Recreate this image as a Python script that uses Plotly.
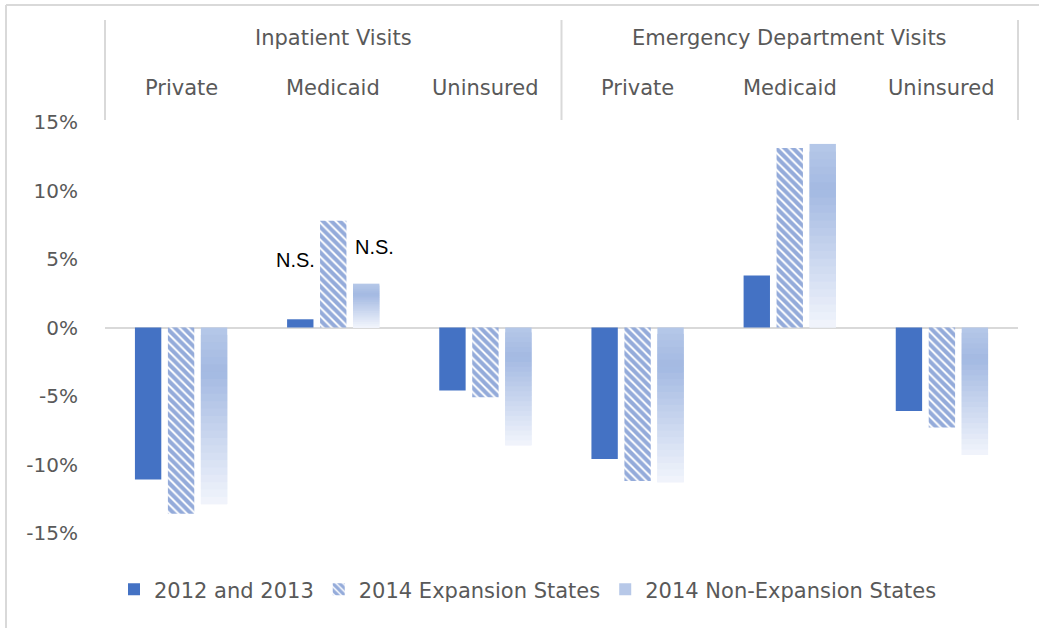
import plotly.graph_objects as go

# ---- data ----
outer_labels = ["Inpatient Visits"] * 3 + ["Emergency Department Visits"] * 3
inner_labels = ["Private", "Medicaid", "Uninsured"] * 2
series_names = ["2012 and 2013", "2014 Expansion States", "2014 Non-Expansion States"]
vals_2012_2013 = [-11.1, 0.6, -4.6, -9.6, 3.8, -6.1]
vals_2014_exp = [-13.6, 7.8, -5.1, -11.2, 13.1, -7.3]
vals_2014_nonexp = [-12.9, 3.2, -8.6, -11.3, 13.4, -9.3]
y_ticks = [-15, -10, -5, 0, 5, 10, 15]
y_tick_text = ["-15%", "-10%", "-5%", "0%", "5%", "10%", "15%"]
ns_notes = ["N.S.", "N.S."]

# ---- layout constants (body margin removed via post_script) ----
W, H = 1039, 628
ML, MR, MT, MB = 105, 21, 122, 95
PW, PH = W - ML - MR, H - MT - MB
TXT = "#595959"
GRID = "#D9D9D9"
BLUE = "#4472C4"
FONT = "DejaVu Sans"

def px_x(px):  # page pixel -> paper
    return (px - ML) / PW

def px_y(py):
    return (H - MB - py) / PH

x = [outer_labels, inner_labels]
fig = go.Figure()

fig.add_trace(go.Bar(
    x=x, y=vals_2012_2013, name=series_names[0], offsetgroup="a",
    marker=dict(color=BLUE, line=dict(width=0)), legendrank=1,
))
fig.add_trace(go.Bar(
    x=x, y=vals_2014_exp, name=series_names[1], offsetgroup="b",
    marker=dict(color="white", line=dict(width=0),
                pattern=dict(shape="\\", fgcolor="#2A58B5", bgcolor="white",
                             size=6, solidity=0.68)),
    legendrank=2,
))

# gradient bars (screen top -> bottom), drawn as overlapping slices of each value
stops = [(0.0, (182, 200, 232)), (0.25, (163, 185, 226)), (1.0, (242, 245, 252))]

def grad_color(t):
    for (t0, c0), (t1, c1) in zip(stops[:-1], stops[1:]):
        if t <= t1:
            f = (t - t0) / (t1 - t0) if t1 > t0 else 0
            return "rgb(%d,%d,%d)" % tuple(round(a + (b - a) * f) for a, b in zip(c0, c1))
    return "rgb(%d,%d,%d)" % stops[-1][1]

N = 24
for k in range(N):
    bases, heights = [], []
    for v in vals_2014_nonexp:
        hi, lo = max(v, 0), min(v, 0)
        step = (hi - lo) / N
        top = hi - k * step
        b = max(top - 2 * step, lo)
        bases.append(b)
        heights.append(top - b)
    fig.add_trace(go.Bar(
        x=x, y=heights, base=bases, offsetgroup="c",
        marker=dict(color=grad_color((k + 0.5) / N), line=dict(width=0)),
        name=series_names[2], legendgroup="nonexp",
        showlegend=(k == 10), legendrank=3, hoverinfo="skip",
    ))

# two-level category header above the plot
n_cat = len(inner_labels)
for i, lab in enumerate(inner_labels):
    fig.add_annotation(x=(i + 0.5) / n_cat, y=px_y(88), xref="paper", yref="paper",
                       text=lab, showarrow=False, xanchor="center", yanchor="middle",
                       font=dict(family=FONT, size=21, color=TXT))
groups = []
for i, lab in enumerate(outer_labels):
    if not groups or groups[-1][0] != lab:
        groups.append([lab, i, i])
    else:
        groups[-1][2] = i
for lab, i0, i1 in groups:
    fig.add_annotation(x=(i0 + i1 + 1) / 2 / n_cat, y=px_y(38), xref="paper", yref="paper",
                       text=lab, showarrow=False, xanchor="center", yanchor="middle",
                       font=dict(family=FONT, size=21, color=TXT))
bounds = sorted({g[1] for g in groups} | {g[2] + 1 for g in groups})
for b in bounds:
    fig.add_shape(type="line", xref="paper", yref="paper",
                  x0=b / n_cat, x1=b / n_cat, y0=px_y(20), y1=px_y(120),
                  line=dict(color=GRID, width=2))

fig.add_annotation(x=px_x(295), y=4.9, xref="paper", yref="y", text=ns_notes[0],
                   xanchor="center", yanchor="middle", showarrow=False,
                   font=dict(family="Liberation Sans", size=20, color="#000000"))
fig.add_annotation(x=px_x(374), y=5.9, xref="paper", yref="y", text=ns_notes[1],
                   xanchor="center", yanchor="middle", showarrow=False,
                   font=dict(family="Liberation Sans", size=20, color="#000000"))

# outer chart border (top and left edges visible)
fig.add_shape(type="line", xref="paper", yref="paper",
              x0=px_x(6), x1=px_x(1045), y0=px_y(5), y1=px_y(5),
              line=dict(color=GRID, width=2))
fig.add_shape(type="line", xref="paper", yref="paper",
              x0=px_x(6), x1=px_x(6), y0=px_y(5), y1=px_y(640),
              line=dict(color=GRID, width=2))

fig.update_layout(
    width=W, height=H,
    margin=dict(l=ML, r=MR, t=MT, b=MB, autoexpand=False),
    paper_bgcolor="white", plot_bgcolor="white",
    barmode="group", bargap=0.35, bargroupgap=0.2,
    font=dict(family=FONT, color=TXT, size=20),
    showlegend=True,
    legend=dict(orientation="h", x=px_x(528), xanchor="center", y=-0.088, yanchor="top",
                font=dict(size=21, color=TXT), traceorder="normal",
                itemsizing="constant"),
    xaxis=dict(type="multicategory", side="top", showgrid=False, showline=False,
               ticks="", showticklabels=False, showdividers=False,
               automargin=False),
    yaxis=dict(range=[-15, 15], tickvals=y_ticks, ticktext=y_tick_text, showgrid=False,
               showline=False, zeroline=True, zerolinecolor=GRID, zerolinewidth=2,
               tickfont=dict(size=20, color=TXT), ticklabelstandoff=26,
               automargin=False),
)

fig.write_html("out.html", config={"displayModeBar": False},
               post_script="document.body.style.margin='0';document.body.style.overflow='hidden';")
